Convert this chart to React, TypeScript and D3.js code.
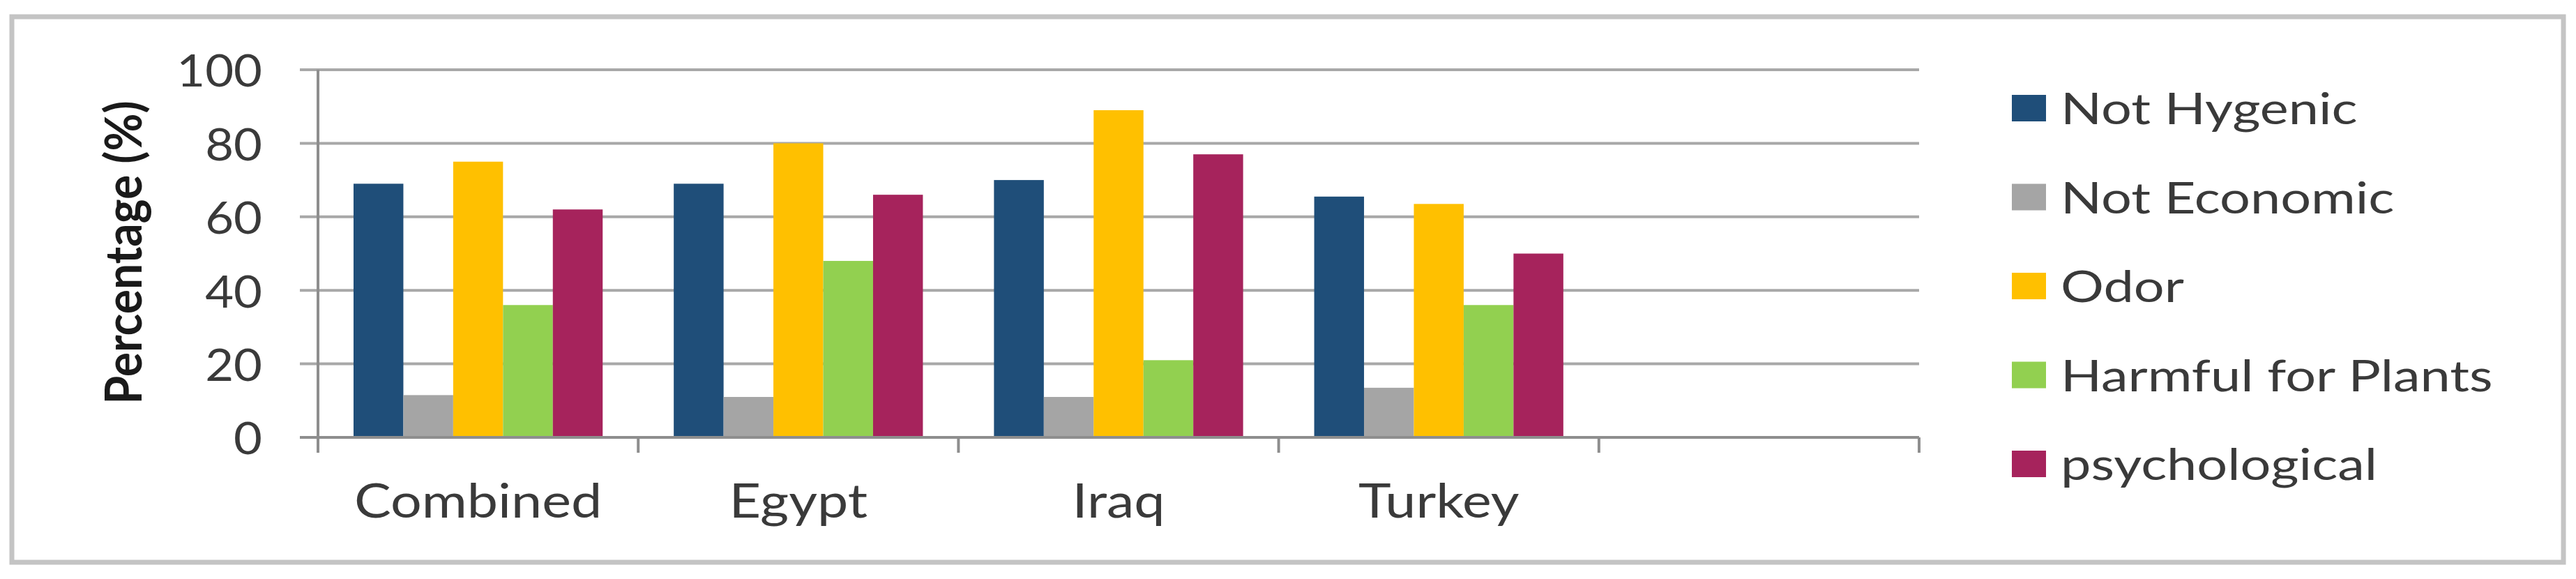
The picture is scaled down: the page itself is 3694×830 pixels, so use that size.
import * as d3 from "d3";

const categories = ["Combined", "Egypt", "Iraq", "Turkey", ""];
const seriesNames = ["Not Hygenic", "Not Economic", "Odor", "Harmful for Plants", "psychological"];
const notHygenic = [69, 69, 70, 65.5];
const notEconomic = [11.5, 11, 11, 13.5];
const odor = [75, 80, 89, 63.5];
const harmfulForPlants = [36, 48, 21, 36];
const psychological = [62, 66, 77, 50];
const seriesColors = ["#1f4e79", "#a5a5a5", "#ffc000", "#92d050", "#a6235c"];
const yTicks = [0, 20, 40, 60, 80, 100];

const series = [notHygenic, notEconomic, odor, harmfulForPlants, psychological];

const W = 3694;
const H = 830;
const FONT = "Lato, 'Open Sans', sans-serif";
const TEXT = "#3a3a3a";

export default function App() {
  const left = 456;
  const right = 2752;
  const top = 100;
  const bottom = 627;

  const x = d3
    .scaleBand<string>()
    .domain(categories)
    .range([left, right])
    .paddingInner(0.222)
    .paddingOuter(0.111);
  const xs = d3.scaleBand<string>().domain(seriesNames).range([0, x.bandwidth()]);
  const y = d3.scaleLinear().domain([0, 100]).range([bottom, top]);

  const bounds = d3.range(categories.length + 1).map((i) => left + i * x.step());
  const legendY = (i: number) => 155 + i * 127.5;

  return (
    <div style={{ position: "absolute", left: 0, top: 0 }}>
      <svg width={W} height={H} style={{ display: "block", background: "#fff" }} fontFamily={FONT}>
        {/* outer frame */}
        <rect x={17} y={24} width={3659} height={782} fill="#fff" stroke="#c4c4c4" strokeWidth={7} />

        {/* gridlines */}
        {yTicks.map((t) => (
          <line key={t} x1={430} x2={right} y1={y(t)} y2={y(t)} stroke="#a8a8a8" strokeWidth={4} />
        ))}

        {/* y axis */}
        <line x1={left} x2={left} y1={top} y2={bottom + 22} stroke="#8e8e8e" strokeWidth={4} />
        {bounds.map((b, i) => (
          <line key={i} x1={b} x2={b} y1={bottom} y2={bottom + 22} stroke="#8e8e8e" strokeWidth={4} />
        ))}

        {/* bars */}
        {categories.map((c, ci) =>
          series.map((vals, si) =>
            vals[ci] == null ? null : (
              <rect
                key={c + si}
                x={(x(c) ?? 0) + (xs(seriesNames[si]) ?? 0)}
                y={y(vals[ci])}
                width={xs.bandwidth()}
                height={y(0) - y(vals[ci])}
                fill={seriesColors[si]}
              />
            )
          )
        )}

        {/* x baseline */}
        <line x1={430} x2={right} y1={bottom} y2={bottom} stroke="#8e8e8e" strokeWidth={4} />

        {/* y tick labels */}
        {yTicks.map((t) => (
          <text
            key={t}
            transform={`translate(376,${y(t)}) scale(1.12,1)`}
            textAnchor="end"
            dominantBaseline="central"
            fontSize={63}
            fill={TEXT}
          >
            {t}
          </text>
        ))}

        {/* category labels */}
        {categories.map((c) => (
          <text
            key={c}
            transform={`translate(${(x(c) ?? 0) + x.bandwidth() / 2},742) scale(1.18,1)`}
            textAnchor="middle"
            fontSize={67}
            fill={TEXT}
          >
            {c}
          </text>
        ))}

        {/* y title */}
        <text
          transform="translate(203,362) scale(1.1,1) rotate(-90)"
          textAnchor="middle"
          fontSize={66}
          fontWeight="bold"
          fill="#1a1a1a"
        >
          Percentage (%)
        </text>

        {/* legend */}
        {seriesNames.map((s, i) => (
          <g key={s}>
            <rect x={2885} y={legendY(i) - 19} width={49} height={38} fill={seriesColors[i]} />
            <text
              transform={`translate(2955,${legendY(i) + 23}) scale(1.25,1)`}
              fontSize={62}
              fill={TEXT}
            >
              {s}
            </text>
          </g>
        ))}
      </svg>
    </div>
  );
}
